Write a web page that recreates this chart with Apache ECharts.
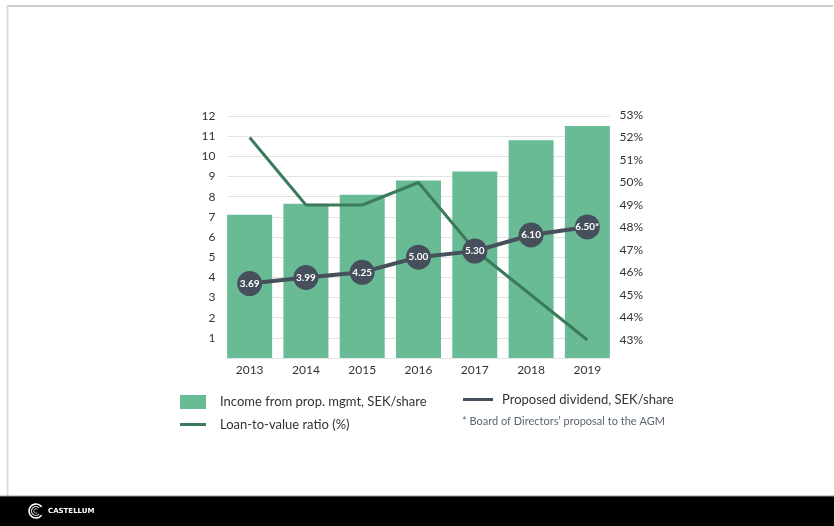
<!DOCTYPE html>
<html><head><meta charset="utf-8">
<script src="https://cdn.jsdelivr.net/npm/echarts@6/dist/echarts.min.js"></script>
<style>html,body{margin:0;padding:0;background:#fff}#c{width:834px;height:526px}</style>
</head><body><div id="c"></div>
<script>
const years = ['2013','2014','2015','2016','2017','2018','2019'];
const income = [7.1, 7.65, 8.1, 8.8, 9.25, 10.8, 11.5];
const dividend = [3.69, 3.99, 4.25, 5.00, 5.30, 6.10, 6.50];
const dividendLabels = ['3.69','3.99','4.25','5.00','5.30','6.10','6.50*'];
const ltv = [52, 49, 49, 50, 47, 45, 43];
const leftTicks = {min: 0, max: 12, interval: 1};
const rightTicks = {min: 43, max: 53, interval: 1};

const FONT = 'Lato';
const chart = echarts.init(document.getElementById('c'), null, {renderer: 'canvas'});
const gL = 221.5, gR = 834 - 615.5;
chart.setOption({
  animation: false,
  textStyle: {fontFamily: FONT},
  grid: [
    {left: gL, right: gR, top: 116, bottom: 168},
    {left: gL, right: gR, top: 115, bottom: 186},
    {left: 227, right: 224, top: 116, bottom: 168}
  ],
  xAxis: [
    {type: 'category', data: years, gridIndex: 0, axisLine: {show: false}, axisTick: {show: false},
     axisLabel: {color: '#333', fontSize: 12, margin: 6, fontFamily: FONT}},
    {type: 'category', data: years, gridIndex: 1, show: false},
    {type: 'value', gridIndex: 2, min: 0, max: 1, show: false}
  ],
  yAxis: [
    {type: 'value', gridIndex: 0, min: leftTicks.min, max: leftTicks.max, interval: leftTicks.interval,
     axisLine: {show: false}, axisTick: {show: false}, splitLine: {show: false},
     axisLabel: {color: '#333', fontSize: 12, margin: 6, fontFamily: FONT, formatter: v => v === 0 ? '' : v}},
    {type: 'value', gridIndex: 1, position: 'right', min: rightTicks.min, max: rightTicks.max, interval: rightTicks.interval,
     axisLine: {show: false}, axisTick: {show: false}, splitLine: {show: false},
     axisLabel: {color: '#333', fontSize: 12, margin: 4, fontFamily: FONT, formatter: '{value}%'}},
    {type: 'value', gridIndex: 2, min: leftTicks.min, max: leftTicks.max, interval: leftTicks.interval,
     axisLine: {show: false}, axisTick: {show: false}, axisLabel: {show: false},
     splitLine: {show: true, lineStyle: {color: '#e2e2e2', width: 1}}}
  ],
  legend: [
    {left: 175, top: 390, itemWidth: 26, itemHeight: 14, data: [{name: 'Income from prop. mgmt, SEK/share', icon: 'rect'}],
     textStyle: {color: '#333', fontSize: 13, fontFamily: FONT, padding: [0, 0, 0, 9]}, selectedMode: false},
    {left: 175, top: 413, itemWidth: 26, itemHeight: 3, data: [{name: 'Loan-to-value ratio (%)', icon: 'rect'}],
     textStyle: {color: '#333', fontSize: 13, fontFamily: FONT, padding: [0, 0, 0, 9]}, selectedMode: false},
    {left: 458, top: 388, itemWidth: 30, itemHeight: 3, data: [{name: 'Proposed dividend, SEK/share', icon: 'rect'}],
     textStyle: {color: '#333', fontSize: 13, fontFamily: FONT, padding: [0, 0, 0, 4]}, selectedMode: false}
  ],
  series: [
    {name: 'Income from prop. mgmt, SEK/share', type: 'bar', xAxisIndex: 0, yAxisIndex: 0, data: income,
     barWidth: 45, itemStyle: {color: '#69bb95'}},
    {name: 'Loan-to-value ratio (%)', type: 'line', xAxisIndex: 1, yAxisIndex: 1, data: ltv,
     symbol: 'none', lineStyle: {color: '#3b7a5b', width: 3}, itemStyle: {color: '#3b7a5b'}},
    {name: 'Proposed dividend, SEK/share', type: 'line', xAxisIndex: 0, yAxisIndex: 0, data: dividend,
     symbol: 'circle', symbolSize: 25, lineStyle: {color: '#46505c', width: 4}, itemStyle: {color: '#46505c'},
     label: {show: true, position: 'inside', color: '#fff', fontSize: 10, fontWeight: 'bold', fontFamily: FONT,
       formatter: p => dividendLabels[p.dataIndex]}}
  ],
  graphic: [
    {type: 'line', shape: {x1: 7, y1: 6, x2: 833, y2: 6}, style: {stroke: '#bdbdbd', lineWidth: 1.5}, silent: true},
    {type: 'line', shape: {x1: 7.5, y1: 6, x2: 7.5, y2: 496}, style: {stroke: '#dcdcdc', lineWidth: 2}, silent: true},
    {type: 'text', left: 462, top: 416, style: {text: '* Board of Directors\u2019 proposal to the AGM', fill: '#5b6570', fontSize: 11, fontFamily: FONT}},
    {type: 'rect', shape: {x: 0, y: 496, width: 834, height: 30}, style: {fill: '#000'}, silent: true},
    {type: 'line', shape: {x1: 0, y1: 496, x2: 834, y2: 496}, style: {stroke: '#9a9a9a', lineWidth: 1}, silent: true},
    {type: 'group', silent: true, children: [
      {type: 'arc', shape: {cx: 36, cy: 511, r: 7, startAngle: Math.PI * 0.2, endAngle: Math.PI * 1.8}, style: {stroke: '#fff', lineWidth: 1.6, fill: null}},
      {type: 'arc', shape: {cx: 36, cy: 511, r: 4.5, startAngle: Math.PI * 0.25, endAngle: Math.PI * 1.75}, style: {stroke: '#ddd', lineWidth: 1.2, fill: null}},
      {type: 'arc', shape: {cx: 36, cy: 511, r: 2.2, startAngle: Math.PI * 0.3, endAngle: Math.PI * 1.7}, style: {stroke: '#bbb', lineWidth: 1, fill: null}}
    ]},
    {type: 'text', left: 48, top: 508, style: {text: 'CASTELLUM', fill: '#fff', fontSize: 7, fontWeight: 'bold', fontFamily: 'DejaVu Sans'}}
  ]
});
</script></body></html>
